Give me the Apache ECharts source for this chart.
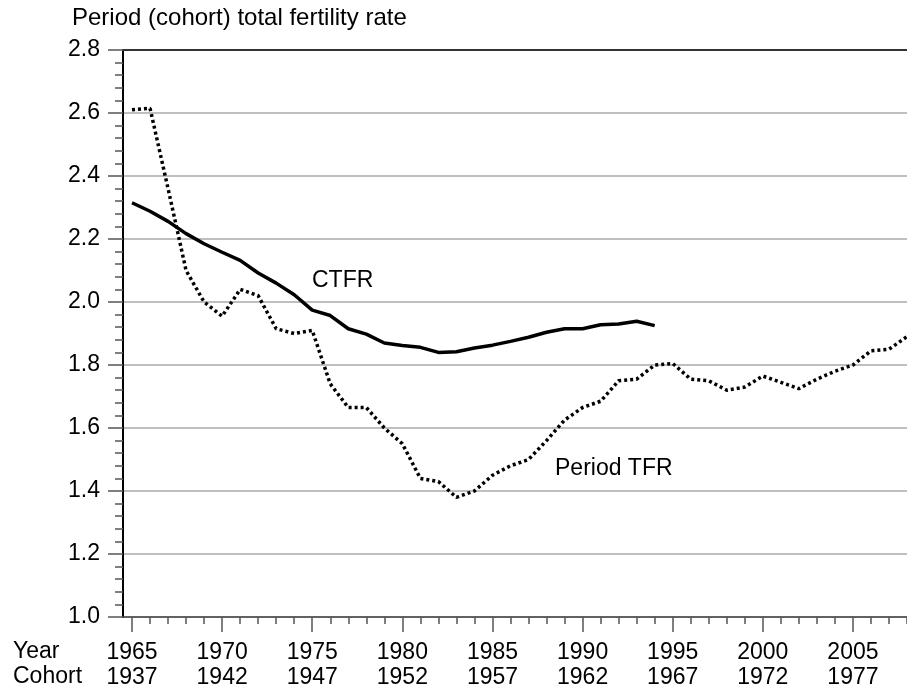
<!DOCTYPE html>
<html>
<head>
<meta charset="utf-8">
<script src="https://cdn.jsdelivr.net/npm/echarts@6/dist/echarts.min.js"></script>
<style>
  html, body { margin: 0; padding: 0; background: #fff; }
  #main { width: 907px; height: 691px; }
</style>
</head>
<body>
<div id="main"></div>
<script>
// data
var periodYears = [];
for (var y = 1965; y <= 2008; y++) periodYears.push(y);
var periodTFR = [2.61, 2.615, 2.36, 2.10, 2.00, 1.955, 2.04, 2.02, 1.915, 1.90,
                 1.91, 1.74, 1.665, 1.665, 1.60, 1.55, 1.44, 1.43, 1.38, 1.40,
                 1.45, 1.48, 1.50, 1.56, 1.625, 1.665, 1.685, 1.75, 1.755, 1.80,
                 1.805, 1.755, 1.75, 1.72, 1.73, 1.765, 1.745, 1.725, 1.755, 1.78,
                 1.80, 1.845, 1.85, 1.89];
var ctfrYears = periodYears.slice(0, 30);   // 1965..1994
var ctfr = [2.315, 2.288, 2.256, 2.217, 2.185, 2.158, 2.132, 2.092, 2.06, 2.023,
            1.974, 1.957, 1.915, 1.898, 1.87, 1.862, 1.856, 1.84, 1.842, 1.854,
            1.863, 1.875, 1.888, 1.904, 1.915, 1.915, 1.928, 1.93, 1.939, 1.925];

// tick labels
var yearLabels = [1965, 1970, 1975, 1980, 1985, 1990, 1995, 2000, 2005];
var cohortLabels = [1937, 1942, 1947, 1952, 1957, 1962, 1967, 1972, 1977];

var FONT = 'Liberation Sans, Arial, sans-serif';
var FS = 23;

function pairs(xs, vs) {
    return vs.map(function (v, i) { return [xs[i], v]; });
}

var myChart = echarts.init(document.getElementById('main'));
myChart.setOption({
    animation: false,
    backgroundColor: '#fff',
    textStyle: { fontFamily: FONT, color: '#000' },
    grid: { left: 123, right: 0, top: 50, bottom: 74 },
    graphic: [
        { type: 'text', left: 72, top: 6, style: { text: 'Period (cohort) total fertility rate', font: '24px ' + FONT, fill: '#000' } },
        { type: 'text', left: 13, top: 640, style: { text: 'Year', font: FS + 'px ' + FONT, fill: '#000' } },
        { type: 'text', left: 13, top: 665, style: { text: 'Cohort', font: FS + 'px ' + FONT, fill: '#000' } },
        { type: 'text', left: 312, top: 269, style: { text: 'CTFR', font: FS + 'px ' + FONT, fill: '#000' } },
        { type: 'text', left: 555, top: 457, style: { text: 'Period TFR', font: FS + 'px ' + FONT, fill: '#000' } }
    ],
    xAxis: [{
        type: 'value',
        min: 1964.5,
        max: 2008,
        position: 'bottom',
        axisLine: { show: true, lineStyle: { color: '#444', width: 1.5 } },
        axisTick: { show: true, length: 15, customValues: yearLabels, lineStyle: { color: '#555', width: 1.5 } },
        splitLine: { show: false },
        axisLabel: {
            customValues: yearLabels,
            margin: 23,
            formatter: function (v) {
                var i = yearLabels.indexOf(Math.round(v));
                return '{a|' + yearLabels[i] + '}\n{a|' + cohortLabels[i] + '}';
            },
            rich: { a: { fontSize: FS, fontFamily: FONT, color: '#000', lineHeight: 25 } }
        }
    }, {
        // minor ticks, one per year
        type: 'value',
        min: 1964.5,
        max: 2008,
        position: 'bottom',
        axisLine: { show: false },
        axisTick: { show: true, length: 7, customValues: periodYears, lineStyle: { color: '#555', width: 1.5 } },
        axisLabel: { show: false },
        splitLine: { show: false }
    }, {
        // top border
        type: 'value',
        min: 1964.5,
        max: 2008,
        position: 'top',
        axisLine: { show: true, lineStyle: { color: '#333', width: 2 } },
        axisTick: { show: false },
        axisLabel: { show: false },
        splitLine: { show: false }
    }],
    yAxis: {
        type: 'value',
        min: 1.0,
        max: 2.8,
        interval: 0.2,
        axisLine: { show: true, lineStyle: { color: '#000', width: 2 } },
        axisTick: { show: true, length: 15, lineStyle: { color: '#555', width: 1.5 } },
        minorTick: { show: true, splitNumber: 5, length: 8, lineStyle: { color: '#555', width: 1.5 } },
        splitLine: { show: true, lineStyle: { color: '#aaa', width: 1.5 } },
        axisLabel: {
            margin: 23,
            fontSize: FS,
            fontFamily: FONT,
            color: '#000',
            formatter: function (v) { return v.toFixed(1); }
        }
    },
    series: [{
        name: 'CTFR',
        type: 'line',
        data: pairs(ctfrYears, ctfr),
        showSymbol: false,
        lineStyle: { color: '#000', width: 3.5 }
    }, {
        name: 'Period TFR',
        type: 'line',
        data: pairs(periodYears, periodTFR),
        showSymbol: false,
        lineStyle: { color: '#000', width: 3.5, type: [3, 3], cap: 'butt' }
    }]
});
</script>
</body>
</html>
